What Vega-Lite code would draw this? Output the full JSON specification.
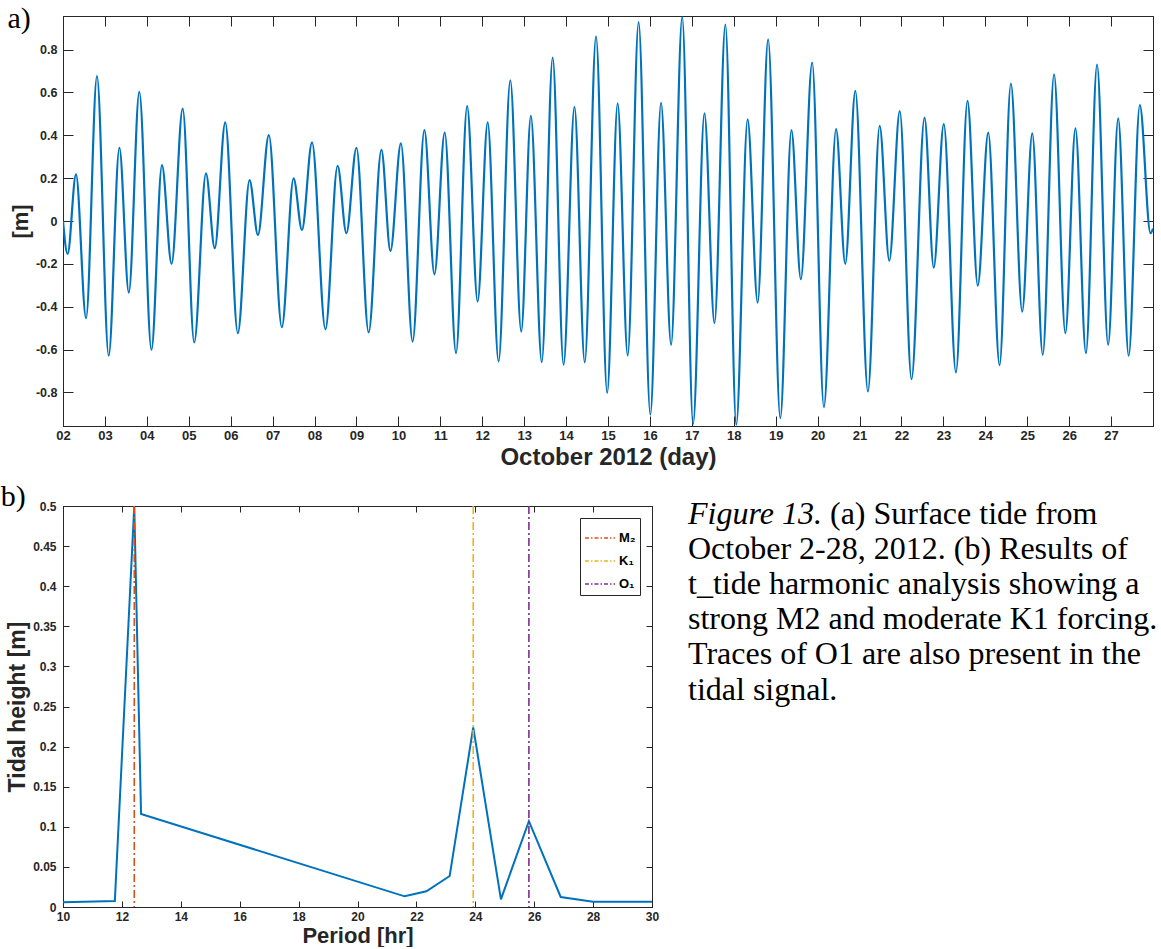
{
  "$schema": "https://vega.github.io/schema/vega-lite/v6.json",
  "background": "white",
  "padding": {"left": 0, "top": 3, "right": 0, "bottom": 0},
  "bounds": "flush",
  "spacing": 80,
  "resolve": {"scale": {"color": "independent"}, "legend": {"color": "independent"}},
  "config": {
    "view": {"stroke": "#262626", "strokeWidth": 1},
    "axis": {
      "grid": false,
      "labelFont": "Liberation Sans",
      "labelFontWeight": "bold",
      "labelColor": "#262626",
      "titleFont": "Liberation Sans",
      "titleFontWeight": "bold",
      "titleColor": "#262626",
      "domainColor": "#262626",
      "tickColor": "#262626",
      "tickWidth": 1,
      "domainWidth": 1,
      "labelFlush": false,
      "labelOverlap": false
    },
    "title": {"font": "Liberation Serif", "fontWeight": "normal", "color": "black"}
  },
  "vconcat": [
    {
      "width": 1090,
      "height": 410,
      "title": {"text": "a)", "anchor": "start", "frame": "bounds", "fontSize": 30, "offset": -18, "dx": -2},
      "data": {"values": [
        {"day": 2.0, "h": 0.0}, {"day": 2.11, "h": -0.154}, {"day": 2.31, "h": 0.218}, {"day": 2.55, "h": -0.454},
        {"day": 2.81, "h": 0.676}, {"day": 3.09, "h": -0.629}, {"day": 3.345, "h": 0.342}, {"day": 3.57, "h": -0.334},
        {"day": 3.82, "h": 0.603}, {"day": 4.11, "h": -0.601}, {"day": 4.36, "h": 0.261}, {"day": 4.59, "h": -0.2},
        {"day": 4.855, "h": 0.525}, {"day": 5.13, "h": -0.567}, {"day": 5.41, "h": 0.222}, {"day": 5.62, "h": -0.127},
        {"day": 5.87, "h": 0.46}, {"day": 6.17, "h": -0.524}, {"day": 6.45, "h": 0.191}, {"day": 6.65, "h": -0.065},
        {"day": 6.91, "h": 0.401}, {"day": 7.22, "h": -0.496}, {"day": 7.5, "h": 0.199}, {"day": 7.7, "h": -0.042},
        {"day": 7.94, "h": 0.367}, {"day": 8.26, "h": -0.505}, {"day": 8.55, "h": 0.258}, {"day": 8.76, "h": -0.057},
        {"day": 9.0, "h": 0.342}, {"day": 9.29, "h": -0.52}, {"day": 9.595, "h": 0.332}, {"day": 9.81, "h": -0.14},
        {"day": 10.06, "h": 0.362}, {"day": 10.34, "h": -0.563}, {"day": 10.62, "h": 0.424}, {"day": 10.86, "h": -0.249},
        {"day": 11.105, "h": 0.413}, {"day": 11.375, "h": -0.617}, {"day": 11.64, "h": 0.536}, {"day": 11.89, "h": -0.376},
        {"day": 12.13, "h": 0.46}, {"day": 12.39, "h": -0.656}, {"day": 12.67, "h": 0.657}, {"day": 12.93, "h": -0.516},
        {"day": 13.16, "h": 0.491}, {"day": 13.42, "h": -0.659}, {"day": 13.68, "h": 0.763}, {"day": 13.94, "h": -0.671},
        {"day": 14.2, "h": 0.533}, {"day": 14.445, "h": -0.66}, {"day": 14.715, "h": 0.862}, {"day": 14.98, "h": -0.803},
        {"day": 15.23, "h": 0.549}, {"day": 15.47, "h": -0.628}, {"day": 15.73, "h": 0.928}, {"day": 16.01, "h": -0.904},
        {"day": 16.265, "h": 0.552}, {"day": 16.505, "h": -0.578}, {"day": 16.77, "h": 0.952}, {"day": 17.03, "h": -0.948},
        {"day": 17.3, "h": 0.502}, {"day": 17.54, "h": -0.477}, {"day": 17.8, "h": 0.917}, {"day": 18.06, "h": -0.951},
        {"day": 18.33, "h": 0.474}, {"day": 18.57, "h": -0.381}, {"day": 18.82, "h": 0.848}, {"day": 19.11, "h": -0.92},
        {"day": 19.375, "h": 0.424}, {"day": 19.6, "h": -0.272}, {"day": 19.87, "h": 0.74}, {"day": 20.15, "h": -0.869},
        {"day": 20.44, "h": 0.429}, {"day": 20.66, "h": -0.2}, {"day": 20.9, "h": 0.607}, {"day": 21.2, "h": -0.796},
        {"day": 21.48, "h": 0.444}, {"day": 21.71, "h": -0.185}, {"day": 21.96, "h": 0.513}, {"day": 22.24, "h": -0.738},
        {"day": 22.55, "h": 0.483}, {"day": 22.77, "h": -0.218}, {"day": 23.01, "h": 0.452}, {"day": 23.3, "h": -0.707},
        {"day": 23.575, "h": 0.561}, {"day": 23.82, "h": -0.302}, {"day": 24.07, "h": 0.413}, {"day": 24.34, "h": -0.673},
        {"day": 24.61, "h": 0.642}, {"day": 24.88, "h": -0.423}, {"day": 25.12, "h": 0.409}, {"day": 25.37, "h": -0.625},
        {"day": 25.64, "h": 0.685}, {"day": 25.91, "h": -0.524}, {"day": 26.15, "h": 0.432}, {"day": 26.4, "h": -0.617},
        {"day": 26.665, "h": 0.73}, {"day": 26.93, "h": -0.578}, {"day": 27.17, "h": 0.479}, {"day": 27.42, "h": -0.629},
        {"day": 27.685, "h": 0.541}, {"day": 27.94, "h": -0.057}, {"day": 28.0, "h": -0.035}
      ]},
      "layer": [
        {
          "mark": {"type": "line", "color": "#0072BD", "strokeWidth": 2.2, "interpolate": "monotone", "clip": true},
          "encoding": {
            "x": {"field": "day", "type": "quantitative",
                  "scale": {"domain": [2, 28], "nice": false, "zero": false},
                  "axis": {"orient": "bottom", "values": [2,3,4,5,6,7,8,9,10,11,12,13,14,15,16,17,18,19,20,21,22,23,24,25,26,27],
                           "format": "02d", "title": "October 2012 (day)", "titleFontSize": 24, "labelFontSize": 13,
                           "tickSize": -10, "labelPadding": 13, "titlePadding": 3}},
            "y": {"field": "h", "type": "quantitative",
                  "scale": {"domain": [-0.957, 0.957], "nice": false, "zero": false},
                  "axis": {"orient": "left", "values": [-0.8,-0.6,-0.4,-0.2,0,0.2,0.4,0.6,0.8],
                           "labelExpr": "replace(format(datum.value, '.1~f'), '\u2212', '-')",
                           "title": "[m]", "titleFontSize": 22, "labelFontSize": 12.5,
                           "tickSize": -10, "labelPadding": 16, "titlePadding": 3}}
          }
        },
        {
          "mark": {"type": "line", "strokeOpacity": 0},
          "encoding": {
            "x": {"field": "day", "type": "quantitative",
                  "scale": {"domain": [2, 28], "nice": false, "zero": false},
                  "axis": {"orient": "top", "values": [2,3,4,5,6,7,8,9,10,11,12,13,14,15,16,17,18,19,20,21,22,23,24,25,26,27],
                           "labels": false, "title": null, "tickSize": -10}},
            "y": {"field": "h", "type": "quantitative",
                  "scale": {"domain": [-0.957, 0.957], "nice": false, "zero": false},
                  "axis": {"orient": "right", "values": [-0.8,-0.6,-0.4,-0.2,0,0.2,0.4,0.6,0.8],
                           "labels": false, "title": null, "tickSize": -10}}
          }
        }
      ],
      "resolve": {"axis": {"x": "independent", "y": "independent"}}
    },
    {
      "hconcat": [
        {
          "width": 589,
          "height": 401,
          "title": {"text": "b)", "anchor": "start", "frame": "bounds", "fontSize": 30, "offset": -12, "dx": -6},
          "layer": [
            {
              "data": {"values": [
                {"period": 10, "amp": 0.006}, {"period": 11.76, "amp": 0.0075}, {"period": 12.42, "amp": 0.5},
                {"period": 12.65, "amp": 0.116}, {"period": 21.6, "amp": 0.0133}, {"period": 22.34, "amp": 0.0196},
                {"period": 23.13, "amp": 0.0387}, {"period": 23.93, "amp": 0.224}, {"period": 24.87, "amp": 0.0096},
                {"period": 25.82, "amp": 0.107}, {"period": 26.9, "amp": 0.0125}, {"period": 28, "amp": 0.0065},
                {"period": 30, "amp": 0.0065}
              ]},
              "mark": {"type": "line", "color": "#0072BD", "strokeWidth": 2, "clip": true},
              "encoding": {
                "x": {"field": "period", "type": "quantitative",
                      "scale": {"domain": [10, 30], "nice": false, "zero": false},
                      "axis": {"orient": "bottom", "values": [10,12,14,16,18,20,22,24,26,28,30],
                               "title": "Period [hr]", "titleFontSize": 22, "labelFontSize": 12,
                               "tickSize": -6, "labelPadding": 10, "titlePadding": 3}},
                "y": {"field": "amp", "type": "quantitative",
                      "scale": {"domain": [0, 0.5], "nice": false},
                      "axis": {"orient": "left", "values": [0,0.05,0.1,0.15,0.2,0.25,0.3,0.35,0.4,0.45,0.5],
                               "format": "~g", "title": "Tidal height [m]", "titleFontSize": 23, "labelFontSize": 12,
                               "tickSize": -6, "labelPadding": 13, "titlePadding": 3}}
              }
            },
            {
              "data": {"values": [
                {"name": "M\u2082", "period": 12.42},
                {"name": "K\u2081", "period": 23.93},
                {"name": "O\u2081", "period": 25.82}
              ]},
              "mark": {"type": "rule", "strokeWidth": 1.6, "strokeDash": [8, 3, 2, 3]},
              "encoding": {
                "x": {"field": "period", "type": "quantitative",
                      "scale": {"domain": [10, 30], "nice": false, "zero": false}, "axis": null},
                "color": {"field": "name", "type": "nominal",
                          "scale": {"domain": ["M\u2082", "K\u2081", "O\u2081"], "range": ["#D95319", "#EDB120", "#7E2F8E"]},
                          "legend": {"title": null, "orient": "top-right", "offset": 12,
                                     "symbolType": "stroke", "symbolStrokeWidth": 1.5, "symbolDash": [4, 2, 1.5, 2],
                                     "symbolSize": 900, "labelFont": "Liberation Sans", "labelFontWeight": "bold",
                                     "labelFontSize": 13, "labelColor": "black", "strokeColor": "#262626",
                                     "fillColor": "white", "padding": 4, "rowPadding": -6, "labelOffset": 3}}
              }
            },
            {
              "data": {"values": [
                {"period": 10, "amp": 0}, {"period": 30, "amp": 0.5}
              ]},
              "mark": {"type": "point", "opacity": 0},
              "encoding": {
                "x": {"field": "period", "type": "quantitative",
                      "scale": {"domain": [10, 30], "nice": false, "zero": false},
                      "axis": {"orient": "top", "values": [10,12,14,16,18,20,22,24,26,28,30],
                               "labels": false, "title": null, "tickSize": -6}},
                "y": {"field": "amp", "type": "quantitative",
                      "scale": {"domain": [0, 0.5], "nice": false},
                      "axis": {"orient": "right", "values": [0,0.05,0.1,0.15,0.2,0.25,0.3,0.35,0.4,0.45,0.5],
                               "labels": false, "title": null, "tickSize": -6}}
              }
            }
          ],
          "resolve": {"axis": {"x": "independent", "y": "independent"}}
        },
        {
          "width": 470,
          "height": 401,
          "view": {"stroke": null},
          "data": {"values": [
            {"line": 1, "part": "lead", "text": "Figure 13."},
            {"line": 1, "part": "rest", "text": "(a) Surface tide from"},
            {"line": 2, "part": "body", "text": "October 2-28, 2012. (b) Results of"},
            {"line": 3, "part": "body", "text": "t_tide harmonic analysis showing a"},
            {"line": 4, "part": "body", "text": "strong M2 and moderate K1 forcing."},
            {"line": 5, "part": "body", "text": "Traces of O1 are also present in the"},
            {"line": 6, "part": "body", "text": "tidal signal."}
          ]},
          "encoding": {
            "x": {"datum": 0, "type": "quantitative", "scale": {"domain": [0, 1]}, "axis": null},
            "y": {"field": "line", "type": "quantitative", "scale": {"domain": [0.5, 11.89], "reverse": true, "nice": false, "zero": false}, "axis": null},
            "text": {"field": "text"}
          },
          "layer": [
            {"transform": [{"filter": "datum.part === 'lead'"}],
             "mark": {"type": "text", "align": "left", "baseline": "alphabetic", "font": "Liberation Serif", "fontSize": 32, "fontStyle": "italic", "color": "black"}},
            {"transform": [{"filter": "datum.part === 'rest'"}],
             "mark": {"type": "text", "align": "left", "baseline": "alphabetic", "font": "Liberation Serif", "fontSize": 32, "color": "black", "dx": 142}},
            {"transform": [{"filter": "datum.part === 'body'"}],
             "mark": {"type": "text", "align": "left", "baseline": "alphabetic", "font": "Liberation Serif", "fontSize": 32, "color": "black"}}
          ]
        }
      ],
      "spacing": 36,
      "bounds": "flush",
      "resolve": {"scale": {"color": "independent"}, "legend": {"color": "independent"}}
    }
  ]
}
